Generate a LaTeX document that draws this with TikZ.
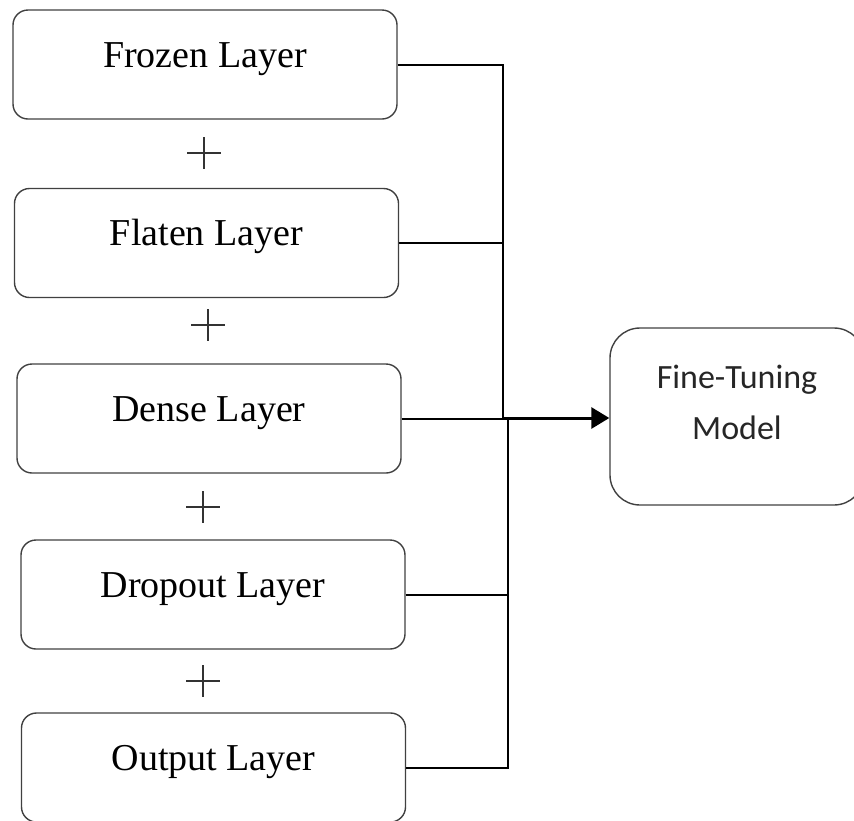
\documentclass[tikz,border=0pt]{standalone}
\usepackage{fontspec}
\setmainfont{Liberation Serif}
\newfontfamily\sanslabel{Carlito}
\usetikzlibrary{arrows.meta}
\begin{document}
\begin{tikzpicture}[x=1pt,y=-1pt,
  layerbox/.style={draw=black!75, line width=1.4pt, rounded corners=15pt,
    inner sep=0pt, minimum width=384pt, text height=57pt, text depth=52pt,
    font=\fontsize{38}{44}\selectfont},
  modelbox/.style={draw=black!75, line width=1.4pt, rounded corners=30pt,
    inner sep=0pt, minimum width=254pt, minimum height=177pt},
  modeltext/.style={align=center, inner sep=0pt,
    font=\sanslabel\fontsize{34}{51}\selectfont, text=black!85},
  link/.style={line width=2pt, black},
  plussign/.style={line width=1.5pt, black!80},
  plusmark/.pic={\draw[plussign] (-17,0) -- (17,0) (0,-16) -- (0,16);}
]
\useasboundingbox (0,0) rectangle (854,820);

% stacked layers
\node[layerbox] (frozen)  at (205,64.5)  {Frozen Layer};
\node[layerbox] (flaten)  at (206.5,243) {Flaten Layer};
\node[layerbox] (dense)   at (209,418.5) {Dense Layer};
\node[layerbox] (dropout) at (213,594.5) {Dropout Layer};
\node[layerbox] (output)  at (213.5,767.5) {Output Layer};

% plus signs between layers
\pic (plusA) at (204,153) {plusmark};
\pic (plusB) at (208,325) {plusmark};
\pic (plusC) at (203,507) {plusmark};
\pic (plusD) at (203,681) {plusmark};

% target model (label anchored on the baseline of its last line)
\node[modelbox] (ft) at (737,416.5) {};
\node[modeltext, anchor=base] (ftlabel) at (737,439) {Fine-Tuning\\Model};

% collecting connectors
\coordinate (jup) at (503,418);
\coordinate (jdown) at (508,418);
\draw[link] (frozen.east) -| (jup);
\draw[link] (flaten.east) -| (jup);
\draw[link] (dense.east) -| (jdown);
\draw[link] (dropout.east) -| (jdown);
\draw[link] (output.east) -| (jdown);
\draw[line width=3pt, -{Triangle[length=18pt,width=21pt]}] (jup) -- (jup -| ft.west);
\end{tikzpicture}
\end{document}
